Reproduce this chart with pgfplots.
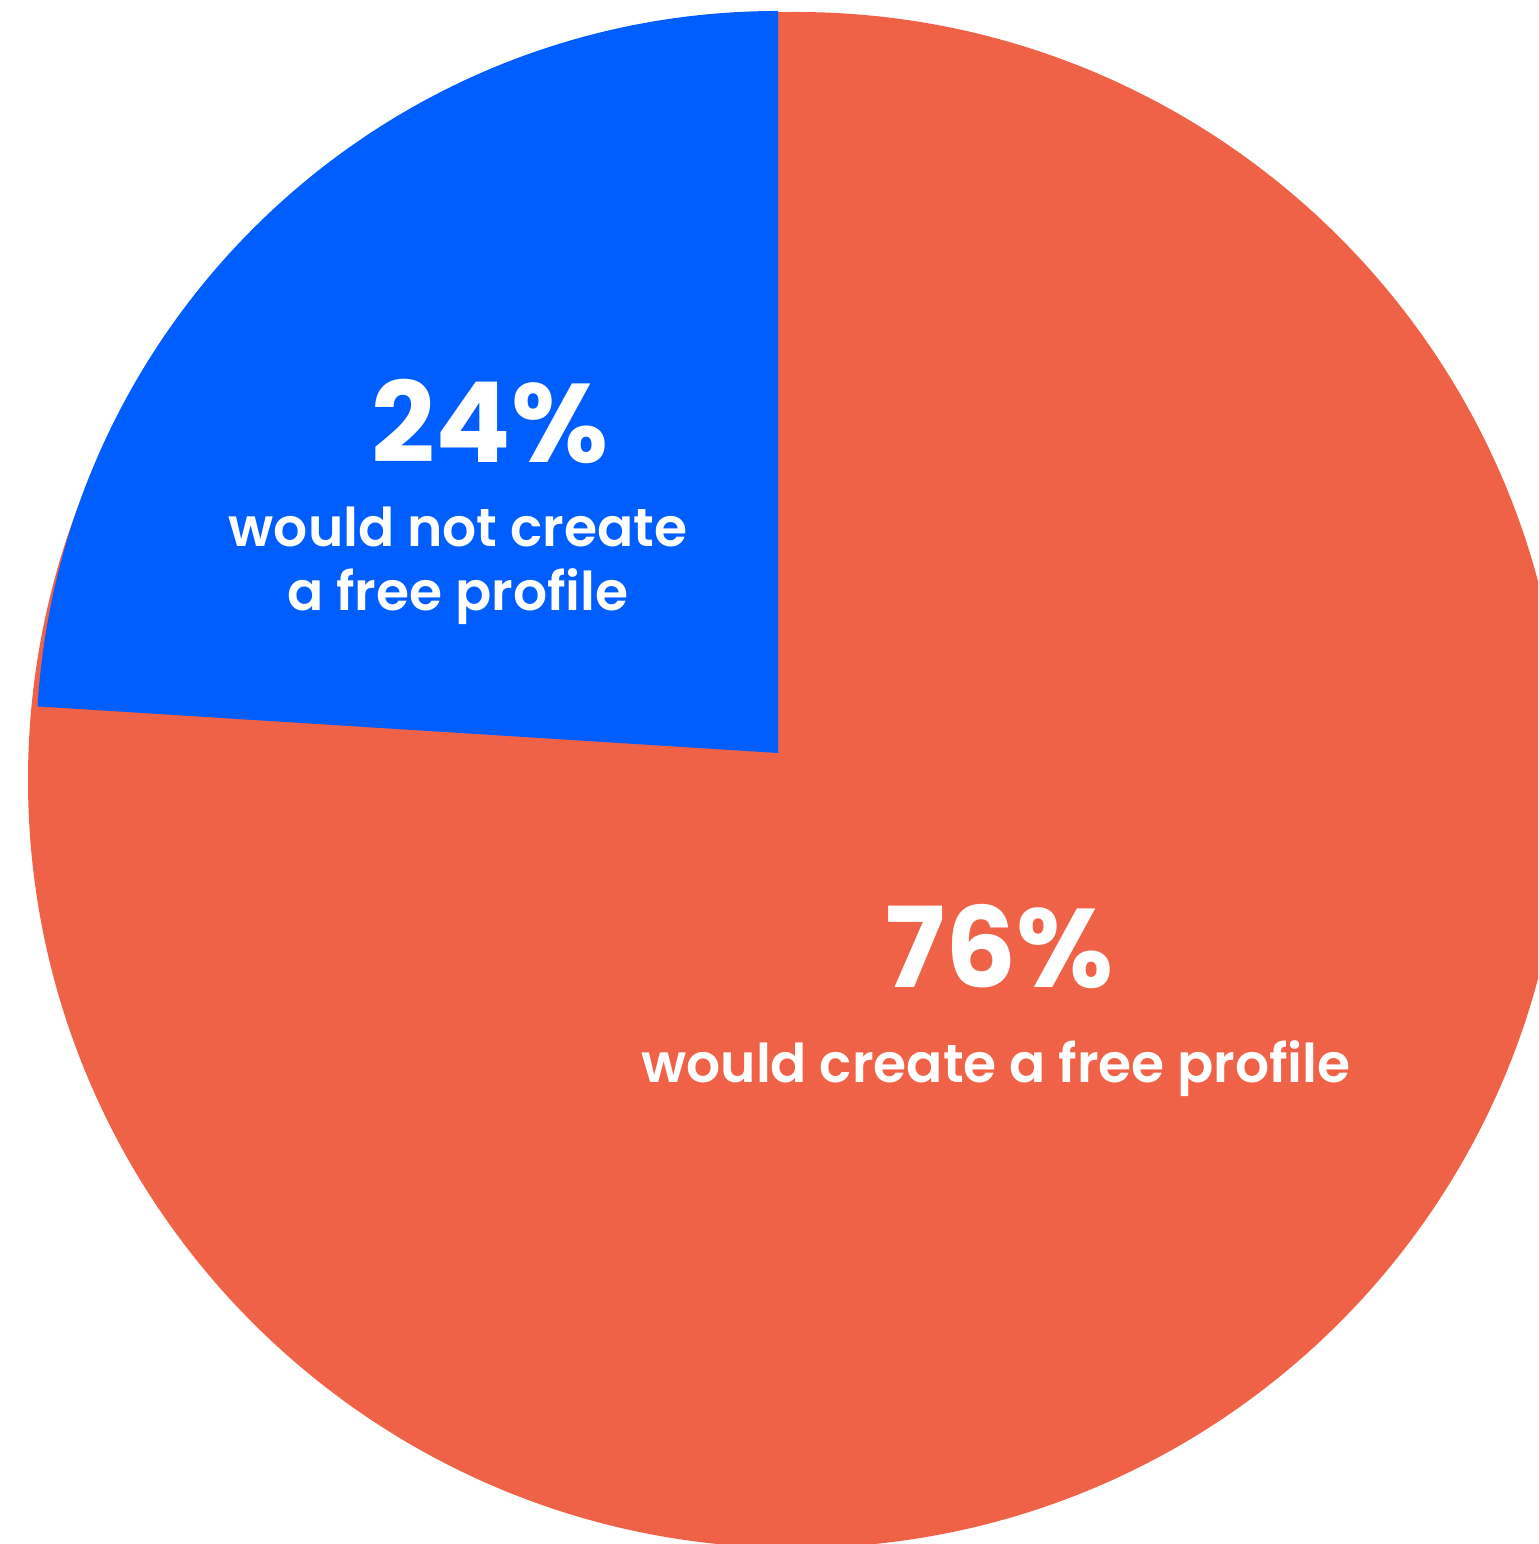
\documentclass[border=0pt]{standalone}
\usepackage{pgfplots}
\pgfplotsset{compat=1.18}
\usepackage{fontspec}
\setmainfont{Poppins}[BoldFont={* Bold}]
\newfontfamily\semib{Poppins}[UprightFont={* SemiBold}]
\definecolor{redc}{HTML}{F06248}
\definecolor{bluec}{HTML}{005EFF}
% data: share (percent)
\def\vNo{24}
\def\vYes{76}
\begin{document}
\begin{tikzpicture}
\begin{axis}[hide axis, scale only axis, width=461.4pt, height=463.2pt,
  xmin=0, xmax=1538, ymin=0, ymax=1544, clip=true, clip mode=global]
\pgfmathsetmacro{\endang}{90+360*\vNo/100}
% 76% slice (drawn as the full disc behind)
\fill[redc] (axis cs:796,764) circle[radius=768];
% 24% slice (slightly exploded)
\fill[bluec] (axis cs:778,791) -- (axis cs:778,1533) arc[start angle=90, end angle=\endang, radius=742] -- cycle;
\node[anchor=base, text=white, font=\bfseries\fontsize{33.5}{38}\selectfont] at (axis cs:490,1081) {\vNo\%};
\node[anchor=base, text=white, font=\semib\fontsize{16.05}{19.2}\selectfont] at (axis cs:458,997) {would not create};
\node[anchor=base, text=white, font=\semib\fontsize{16.05}{19.2}\selectfont] at (axis cs:458,933) {a free profile};
\node[anchor=base, text=white, font=\bfseries\fontsize{33.5}{38}\selectfont] at (axis cs:1000,556) {\vYes\%};
\node[anchor=base, text=white, font=\semib\fontsize{16.05}{19.2}\selectfont] at (axis cs:996,461) {would create a free profile};
\end{axis}
\pgfresetboundingbox
\path (current axis.south west) rectangle (current axis.north east);
\end{tikzpicture}
\end{document}
